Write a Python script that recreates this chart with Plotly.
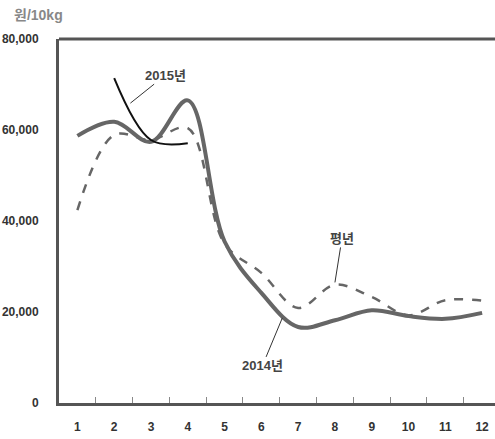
import plotly.graph_objects as go

# Monthly price, won per 10kg
months = ["1", "2", "3", "4", "5", "6", "7", "8", "9", "10", "11", "12"]
price_2014 = [58700, 61800, 57400, 66500, 35500, 24200, 16700, 18200, 20400, 19100, 18500, 19800]
price_avg = [42400, 58900, 57800, 60400, 35000, 28600, 20900, 26000, 23300, 19300, 22600, 22500]
months_2015 = ["2", "3", "4"]
price_2015 = [71400, 57800, 57100]

y_ticks = [0, 20000, 40000, 60000, 80000]
y_tick_text = ["0", "20,000", "40,000", "60,000", "80,000"]

FONT = "Liberation Sans, Arial, Noto Sans CJK KR, sans-serif"
AXIS_COLOR = "#555555"

fig = go.Figure()

fig.add_trace(go.Scatter(
    x=months, y=price_avg, mode="lines", name="평년",
    line=dict(color="#666666", width=2.5, dash="dash", shape="spline", smoothing=1.0),
))
fig.add_trace(go.Scatter(
    x=months, y=price_2014, mode="lines", name="2014년",
    line=dict(color="#666666", width=4, shape="spline", smoothing=1.0),
))
fig.add_trace(go.Scatter(
    x=months_2015, y=price_2015, mode="lines", name="2015년",
    line=dict(color="#111111", width=2, shape="spline", smoothing=1.0),
))

label_font = dict(family=FONT, size=13, color="#444444")
arrow = dict(showarrow=True, arrowhead=0, arrowwidth=1, arrowcolor="#333333")

# Series labels with leader lines
fig.add_annotation(x=1.44, y=65900, text="<b>2015년</b>", ax=35, ay=-28, font=label_font, **arrow)
fig.add_annotation(x=7.0, y=26500, text="<b>평년</b>", ax=7, ay=-44, font=label_font, **arrow)
fig.add_annotation(x=5.57, y=18700, text="<b>2014년</b>", ax=-20, ay=48, font=label_font, **arrow)

# Unit label
fig.add_annotation(
    xref="paper", yref="paper", x=-0.107, y=1.066, xanchor="left", yanchor="middle",
    text="<b>원/10kg</b>", showarrow=False,
    font=dict(family=FONT, size=14, color="#888888"),
)

# Top frame line
fig.add_shape(type="line", xref="paper", yref="paper", x0=0, x1=1, y0=1, y1=1,
              line=dict(color=AXIS_COLOR, width=3))

fig.update_layout(
    width=495, height=439,
    margin=dict(l=59, r=0, t=39, b=36),
    paper_bgcolor="white", plot_bgcolor="white",
    showlegend=False,
    font=dict(family=FONT, color="#333333"),
)
fig.update_xaxes(
    type="category", categoryorder="array", categoryarray=months,
    range=[-0.5, 11.35],
    showgrid=False, zeroline=False,
    showline=True, linecolor=AXIS_COLOR, linewidth=3,
    ticks="inside", tickson="boundaries", ticklen=6, tickcolor="#888888", tickwidth=1,
    tickfont=dict(family=FONT, size=12, color="#333333", weight="bold"),
    ticklabelstandoff=11,
)
fig.update_yaxes(
    range=[0, 80000], tickvals=y_ticks, ticktext=y_tick_text,
    showgrid=False, zeroline=False,
    showline=True, linecolor=AXIS_COLOR, linewidth=3,
    ticks="", tickfont=dict(family=FONT, size=12, color="#333333", weight="bold"),
    ticklabelstandoff=15,
)

fig.write_html("out.html")
